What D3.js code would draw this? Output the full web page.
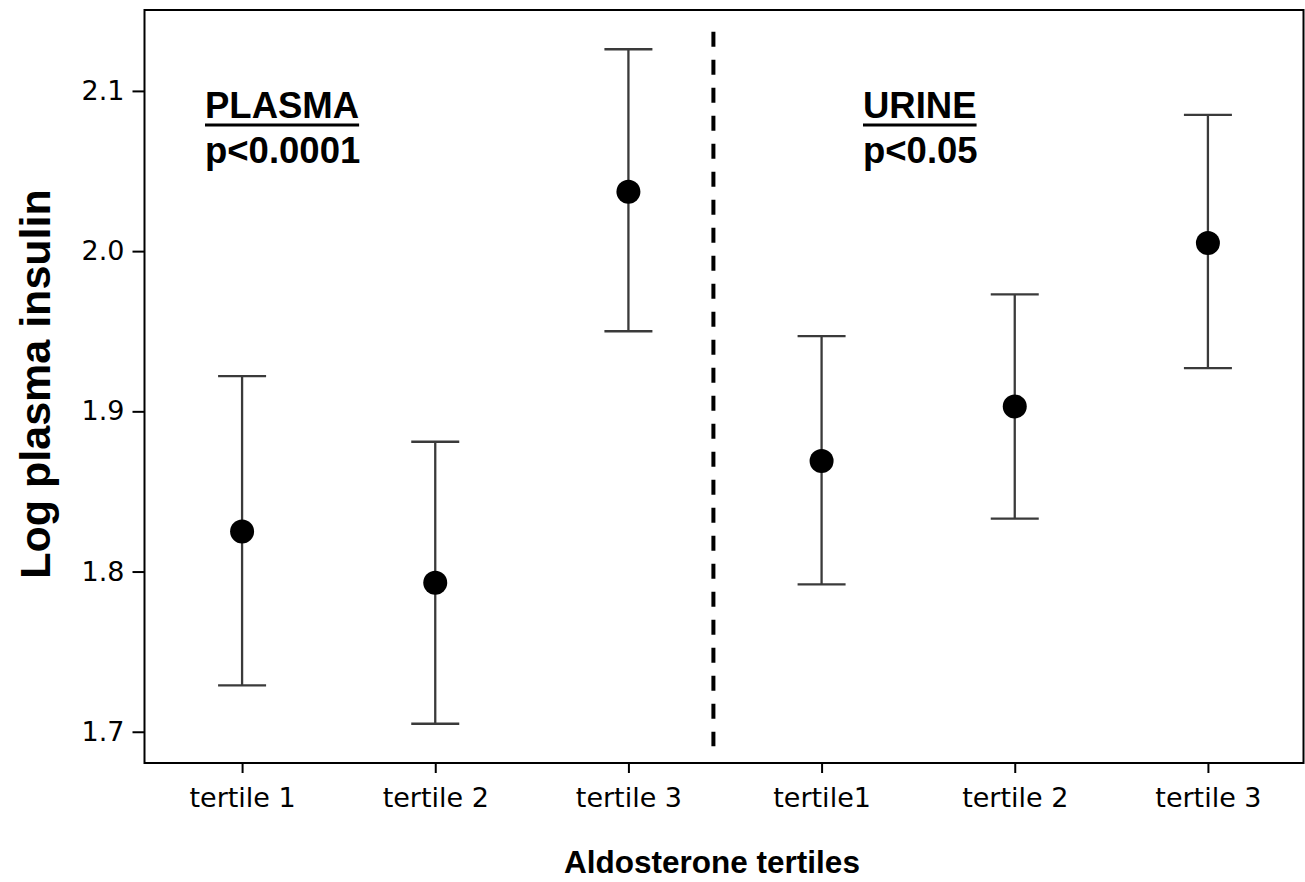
<!DOCTYPE html>
<html>
<head>
<meta charset="utf-8">
<script src="https://cdn.jsdelivr.net/npm/d3@7"></script>
<style>
  html, body { margin: 0; padding: 0; background: #fff; }
  svg { display: block; }
</style>
</head>
<body>
<svg id="chart" width="1305" height="882"></svg>
<script>
// ---- data ----
const categories = ["tertile 1", "tertile 2", "tertile 3", "tertile1", "tertile 2 ", "tertile 3 "];
const categoryLabels = ["tertile 1", "tertile 2", "tertile 3", "tertile1", "tertile 2", "tertile 3"];
const means = [1.825, 1.793, 2.037, 1.869, 1.903, 2.005];
const upper = [1.922, 1.881, 2.126, 1.947, 1.973, 2.085];
const lower = [1.729, 1.705, 1.950, 1.792, 1.833, 1.927];
const yTicks = [1.7, 1.8, 1.9, 2.0, 2.1];
const groupLabels = [
  { title: "PLASMA", p: "p<0.0001", cat: 0 },
  { title: "URINE", p: "p<0.05", cat: 3 }
];
const dividerRange = [1.691, 2.137];

// ---- layout ----
const svg = d3.select("#chart");
const L = 144.5, R = 1303.5, T = 10, B = 763;

const x = d3.scalePoint().domain(categories).range([L + 1, R + 1]).padding(0.5);
const y = d3.scaleLinear().domain([1.6805, 2.1505]).range([B, T]);

// frame
svg.append("rect")
  .attr("x", L).attr("y", T).attr("width", R - L).attr("height", B - T)
  .attr("fill", "none").attr("stroke", "#000").attr("stroke-width", 2);

// y axis
const yAxis = svg.append("g")
  .attr("transform", `translate(${L},0)`)
  .call(d3.axisLeft(y).tickValues(yTicks).tickFormat(d3.format(".1f")).tickSize(12).tickPadding(8));
yAxis.select(".domain").remove();
yAxis.selectAll(".tick line").attr("stroke", "#000").attr("stroke-width", 2);
yAxis.selectAll(".tick text")
  .attr("fill", "#000")
  .style("font-family", "'DejaVu Sans', Verdana, sans-serif")
  .style("font-size", "27px");

// x axis
const xAxis = svg.append("g")
  .attr("transform", `translate(0,${B})`)
  .call(d3.axisBottom(x).tickSize(10).tickPadding(10).tickFormat((d, i) => categoryLabels[i]));
xAxis.select(".domain").remove();
xAxis.selectAll(".tick line").attr("stroke", "#000").attr("stroke-width", 2);
xAxis.selectAll(".tick text")
  .attr("fill", "#000")
  .attr("dy", "0.88em")
  .style("font-family", "'DejaVu Sans', Verdana, sans-serif")
  .style("font-size", "27px");

// divider
const divX = x(categories[2]) + 0.44 * (x(categories[3]) - x(categories[2]));
svg.append("line")
  .attr("x1", divX).attr("x2", divX)
  .attr("y1", y(dividerRange[1])).attr("y2", y(dividerRange[0]))
  .attr("stroke", "#000").attr("stroke-width", 4)
  .attr("stroke-dasharray", "15,13");

// error bars
const data = categories.map((c, i) => ({ c, m: means[i], hi: upper[i], lo: lower[i] }));
const capW = 24;
const eb = svg.append("g").attr("stroke", "#3a3a3a").attr("stroke-width", 2.3);
eb.selectAll("line.v").data(data).join("line")
  .attr("x1", d => x(d.c)).attr("x2", d => x(d.c))
  .attr("y1", d => y(d.hi)).attr("y2", d => y(d.lo));
eb.selectAll("line.top").data(data).join("line")
  .attr("x1", d => x(d.c) - capW).attr("x2", d => x(d.c) + capW)
  .attr("y1", d => y(d.hi)).attr("y2", d => y(d.hi));
eb.selectAll("line.bot").data(data).join("line")
  .attr("x1", d => x(d.c) - capW).attr("x2", d => x(d.c) + capW)
  .attr("y1", d => y(d.lo)).attr("y2", d => y(d.lo));

svg.append("g").selectAll("circle").data(data).join("circle")
  .attr("cx", d => x(d.c)).attr("cy", d => y(d.m)).attr("r", 12)
  .attr("fill", "#000");

// group labels
const labelX = [205, 863];
groupLabels.forEach((g, i) => {
  const t = svg.append("text")
    .attr("x", labelX[i]).attr("y", 118)
    .style("font-family", "'Liberation Sans', Arial, sans-serif")
    .style("font-weight", "bold").style("font-size", "36.5px")
    .attr("fill", "#000").text(g.title);
  const w = t.node().getComputedTextLength();
  svg.append("rect").attr("x", labelX[i]).attr("y", 123.5).attr("width", w).attr("height", 3).attr("fill", "#000");
  svg.append("text")
    .attr("x", labelX[i]).attr("y", 162.5)
    .style("font-family", "'Liberation Sans', Arial, sans-serif")
    .style("font-weight", "bold").style("font-size", "36.5px")
    .attr("fill", "#000").text(g.p);
});

// axis titles
svg.append("text")
  .attr("transform", "translate(50,384) rotate(-90)")
  .attr("text-anchor", "middle")
  .style("font-family", "'Liberation Sans', Arial, sans-serif")
  .style("font-weight", "bold").style("font-size", "43px")
  .attr("fill", "#000").text("Log plasma insulin");

svg.append("text")
  .attr("x", 712).attr("y", 872.5)
  .attr("text-anchor", "middle")
  .style("font-family", "'Liberation Sans', Arial, sans-serif")
  .style("font-weight", "bold").style("font-size", "31.5px")
  .attr("fill", "#000").text("Aldosterone tertiles");
</script>
</body>
</html>
